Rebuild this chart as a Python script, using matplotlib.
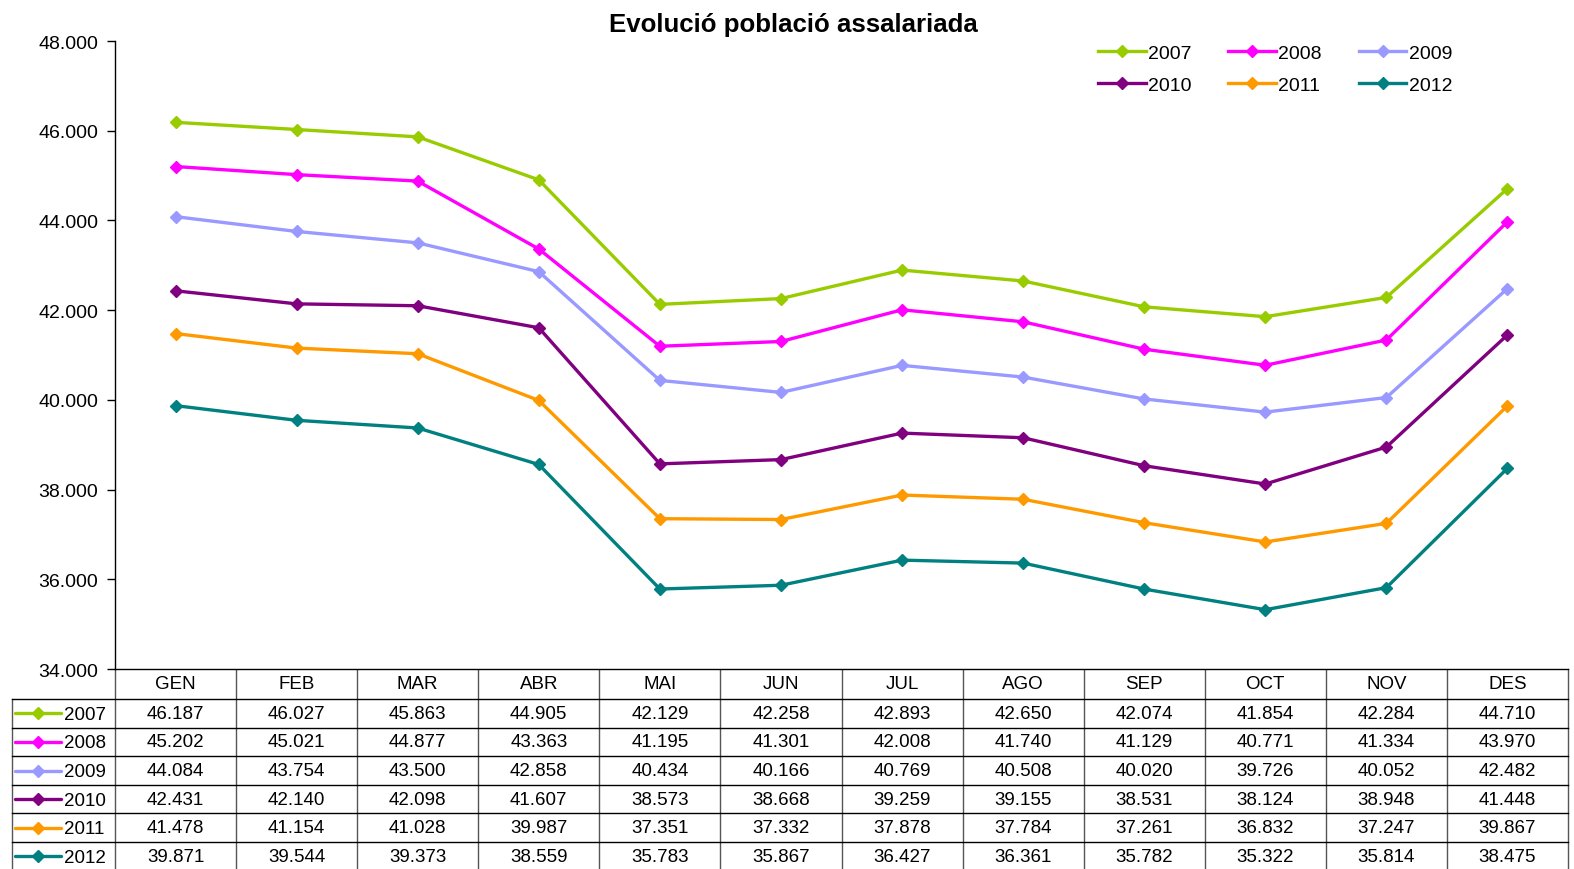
import matplotlib
matplotlib.use("Agg")
import matplotlib.pyplot as plt

plt.rcParams['font.family'] = ['Liberation Sans', 'DejaVu Sans']

months = ["GEN", "FEB", "MAR", "ABR", "MAI", "JUN", "JUL", "AGO", "SEP", "OCT", "NOV", "DES"]
years = ["2007", "2008", "2009", "2010", "2011", "2012"]
s2007 = [46187, 46027, 45863, 44905, 42129, 42258, 42893, 42650, 42074, 41854, 42284, 44710]
s2008 = [45202, 45021, 44877, 43363, 41195, 41301, 42008, 41740, 41129, 40771, 41334, 43970]
s2009 = [44084, 43754, 43500, 42858, 40434, 40166, 40769, 40508, 40020, 39726, 40052, 42482]
s2010 = [42431, 42140, 42098, 41607, 38573, 38668, 39259, 39155, 38531, 38124, 38948, 41448]
s2011 = [41478, 41154, 41028, 39987, 37351, 37332, 37878, 37784, 37261, 36832, 37247, 39867]
s2012 = [39871, 39544, 39373, 38559, 35783, 35867, 36427, 36361, 35782, 35322, 35814, 38475]
series = [s2007, s2008, s2009, s2010, s2011, s2012]
colors = ["#99CC00", "#FF00FF", "#9999FF", "#800080", "#FF9900", "#008080"]


def fmt(v):
    return f"{v // 1000}.{v % 1000:03d}"


W, H = 1574, 870
fig = plt.figure(figsize=(W / 100, H / 100), dpi=100)
ax_l, ax_r, ax_t, ax_b = 115, 1568, 42, 670
ax = fig.add_axes([ax_l / W, 1 - ax_b / H, (ax_r - ax_l) / W, (ax_b - ax_t) / H])

x = list(range(len(months)))
handles = []
for yr, vals, c in zip(years, series, colors):
    h, = ax.plot(x, vals, color=c, lw=2.4, marker='D', ms=6.5, label=yr)
    handles.append(h)

ax.set_xlim(-0.5, len(months) - 0.5)
ax.set_ylim(34000, 48000)
yt = list(range(34000, 48001, 2000))
ax.set_yticks(yt)
ax.set_yticklabels([fmt(v) for v in yt], fontsize=14)
ax.set_xticks([])
ax.spines['top'].set_visible(False)
ax.spines['right'].set_visible(False)
ax.spines['left'].set_linewidth(1.0)
ax.spines['bottom'].set_linewidth(1.0)
ax.tick_params(axis='y', direction='out', length=6, width=1, pad=6)

# legend: row-wise order with 3 columns
order = [0, 3, 1, 4, 2, 5]
fig.legend([handles[i] for i in order], [years[i] for i in order], ncol=3,
           loc='upper left', bbox_to_anchor=(1098 / W, 1 - 45 / H),
           bbox_transform=fig.transFigure, frameon=False, fontsize=14,
           handlelength=2.45, columnspacing=1.9, handletextpad=0.12,
           labelspacing=0.76, borderpad=0, borderaxespad=0)

fig.text(0.5 + 6 / W, 1 - 25 / H, "Evolució població assalariada", ha='center', va='center',
         fontsize=18.6, fontweight='bold')

# data table below the axes (pixel-coordinate overlay)
tax = fig.add_axes([0, 0, 1, 1], zorder=-1)
tax.set_xlim(0, W)
tax.set_ylim(H, 0)
tax.axis('off')
colw = (ax_r - ax_l) / len(months)
hdr_h = 30
row_h = 28.6
lab_l = 12
n_rows = len(years)
bottom = ax_b + hdr_h + row_h * n_rows
for i in range(len(months) + 1):
    xx = ax_l + i * colw
    tax.plot([xx, xx], [ax_b, bottom], color='#555555', lw=1.0)
tax.plot([lab_l, lab_l], [ax_b + hdr_h, bottom], color='#555555', lw=1.0)
for j in range(n_rows + 1):
    yy = ax_b + hdr_h + j * row_h
    tax.plot([lab_l, ax_r], [yy, yy], color='black', lw=1.0)
for i, m in enumerate(months):
    tax.text(ax_l + (i + 0.5) * colw, ax_b + hdr_h / 2, m, ha='center', va='center', fontsize=13.5)
for j, (yr, vals, c) in enumerate(zip(years, series, colors)):
    yc = ax_b + hdr_h + (j + 0.5) * row_h
    tax.plot([15, 61], [yc, yc], color=c, lw=2.4, solid_capstyle='round')
    tax.plot([38], [yc], marker='D', ms=6.5, color=c)
    tax.text(64, yc + 1, yr, ha='left', va='center', fontsize=13.5)
    for i, v in enumerate(vals):
        tax.text(ax_l + (i + 0.5) * colw, yc, fmt(v), ha='center', va='center', fontsize=13.5)

fig.savefig("out.png", dpi=100)
